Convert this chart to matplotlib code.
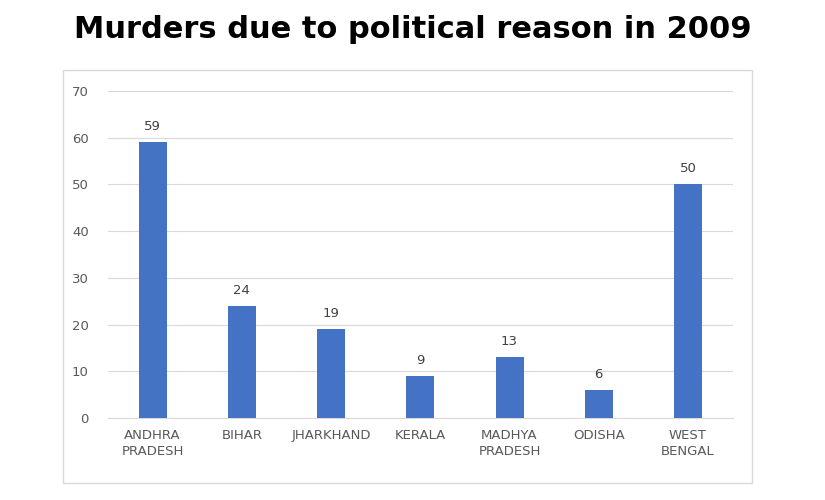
import matplotlib.pyplot as plt
from matplotlib.patches import Rectangle

states = ['ANDHRA\nPRADESH', 'BIHAR', 'JHARKHAND', 'KERALA', 'MADHYA\nPRADESH', 'ODISHA', 'WEST\nBENGAL']
murders = [59, 24, 19, 9, 13, 6, 50]

fig = plt.figure(figsize=(8.25, 5), dpi=100)
fig.patch.set_facecolor('white')

# outer chart frame
fig.patches.append(Rectangle((0.076, 0.034), 0.835, 0.826, transform=fig.transFigure,
                             fill=False, edgecolor='#d9d9d9', linewidth=1))

fig.text(0.5, 0.94, 'Murders due to political reason in 2009', ha='center', va='center',
         fontsize=22, fontweight='heavy', family='DejaVu Sans')

ax = fig.add_axes([0.131, 0.164, 0.757, 0.654])
bars = ax.bar(range(len(states)), murders, width=0.315, color='#4472c4', zorder=3)
for i, v in enumerate(murders):
    ax.text(i, v + 2, str(v), ha='center', va='bottom', fontsize=9.5, color='#404040')

ax.set_xlim(-0.5, len(states) - 0.5)
ax.set_ylim(0, 70)
ax.set_yticks(range(0, 71, 10))
ax.set_xticks(range(len(states)))
ax.set_xticklabels(states, fontsize=9.5, color='#595959', linespacing=1.3)
ax.tick_params(axis='y', labelsize=9.5, labelcolor='#595959', length=0, pad=14)
ax.tick_params(axis='x', length=0, pad=8)
ax.grid(axis='y', color='#d9d9d9', linewidth=0.8, zorder=0)
for s in ['top', 'right', 'left']:
    ax.spines[s].set_visible(False)
ax.spines['bottom'].set_color('#d9d9d9')

fig.savefig('out.png', dpi=100)
